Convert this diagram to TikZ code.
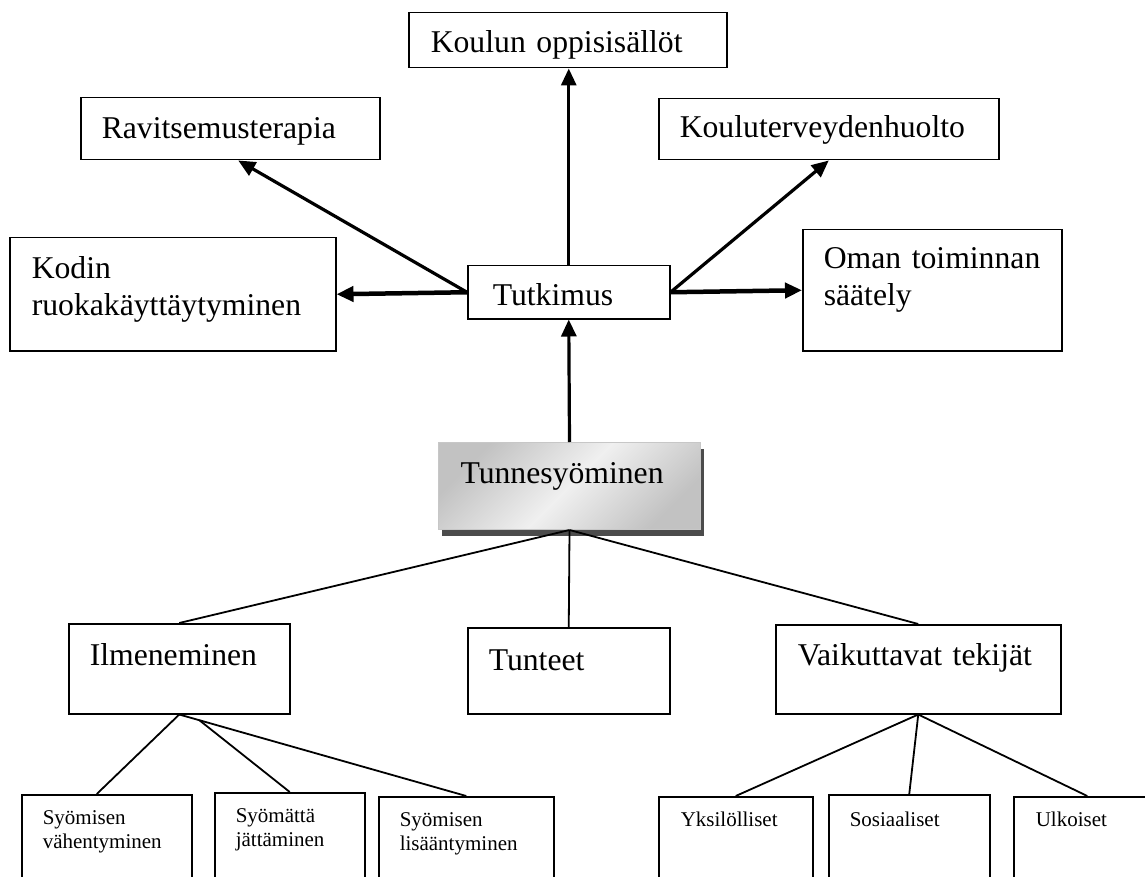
\documentclass[tikz,border=0pt]{standalone}
\usepackage{fontspec}
\setmainfont{Liberation Serif}
\usetikzlibrary{arrows.meta, positioning, calc, shadows}
\tikzset{
  box/.style = {
    draw, line width=1.5pt, anchor=north west, align=left, inner ysep=0pt,
    inner xsep=21pt, font=\fontsize{31.7}{37}\selectfont
  },
  smallbox/.style = {
    box, font=\fontsize{21}{24}\selectfont
  },
  shadedbox/.style = {
    box, draw=black!22, line width=1pt,
    top color=black!24, bottom color=black!24, middle color=black!6, shading angle=45,
    drop shadow={shadow xshift=3pt, shadow yshift=-6pt, fill=black!70, opacity=1}
  },
  arrow/.style = {-{Triangle[length=17pt, width=15pt]}, line width=3.2pt},
  heavy/.style = {arrow, line width=4.5pt},
  link/.style = {line width=1.8pt},
}

\begin{document}
\begin{tikzpicture}[x=1pt, y=1pt]
    \useasboundingbox (0,0) rectangle (1145,-877);
    \clip (0,0) rectangle (1145,-877);

    % Top: research and its targets
    \node[box, text width=274pt, inner xsep=22pt, text height=40pt, text depth=15pt] (koulu) at (408,-12) {Koulun oppisisällöt};
    \node[box, text width=257pt, text height=41pt, text depth=21pt] (ravitsemus) at (80,-97) {Ravitsemusterapia};
    \node[box, text width=298pt, text height=39pt, text depth=22pt] (terveys) at (658,-98) {Kouluterveydenhuolto};
    \node[box, text width=282pt, inner xsep=22pt, text height=41pt, text depth=72pt] (kodin) at (9,-237) {Kodin\\ruokakäyttäytyminen};
    \node[box, text width=217pt, text height=39pt, text depth=82pt] (oman) at (802,-229) {Oman toiminnan\\säätely};
    \node[box, text width=152pt, inner xsep=25pt, text height=40pt, text depth=13pt] (tutkimus) at (467,-265) {Tutkimus};

    % Middle: main topic
    \node[shadedbox, text width=218pt, inner xsep=22pt, text height=41pt, text depth=46pt] (tunne) at (438,-442) {Tunnesyöminen};

    % Row 2: three branches
    \node[box, text width=179pt, text height=42pt, text depth=48pt] (ilm) at (68,-623) {Ilmeneminen};
    \node[box, text width=160pt, text height=43pt, text depth=43pt] (tunteet) at (467,-627) {Tunteet};
    \node[box, text width=241pt, inner xsep=22pt, text height=41pt, text depth=48pt] (vaik) at (775,-624) {Vaikuttavat tekijät};

    % Row 3: small boxes (cut at the bottom edge)
    \node[smallbox, text width=128pt, text height=30pt, text depth=76pt] (vah) at (21,-794) {Syömisen\\vähentyminen};
    \node[smallbox, text width=108pt, text height=30pt, text depth=78pt] (jat) at (214,-792) {Syömättä\\jättäminen};
    \node[smallbox, text width=133pt, text height=30pt, text depth=74pt] (lis) at (378,-796) {Syömisen\\lisääntyminen};
    \node[smallbox, text width=110pt, inner xsep=22pt, text height=30pt, text depth=74pt] (yks) at (658,-796) {Yksilölliset};
    \node[smallbox, text width=119pt, text height=32pt, text depth=74pt] (sos) at (828,-794) {Sosiaaliset};
    \node[smallbox, text width=103pt, inner xsep=22pt, text height=30pt, text depth=74pt] (ulk) at (1013,-796) {Ulkoiset};

    % Arrows
    \draw[arrow] (tunne.north) -- (tutkimus.south);
    \draw[arrow] (tutkimus.north) -- (tutkimus.north |- koulu.south);
    \draw[arrow] (tutkimus.west) -- ([xshift=8pt]ravitsemus.south);
    \draw[arrow] (tutkimus.east) -- (terveys.south);
    \draw[heavy] (tutkimus.west) -- (kodin.east);
    \draw[heavy] (tutkimus.east) -- (oman.west);

    % Tree lines
    \draw[link] (tunne.south) -- (ilm.north);
    \draw[link] (tunne.south) -- (tunteet.north);
    \draw[link] (tunne.south) -- (vaik.north);

    \coordinate (split) at ($(ilm.south)!0.07!(lis.north)$);
    \draw[link] (ilm.south) -- ([xshift=-10pt]vah.north);
    \draw[link] (ilm.south) -- (lis.north);
    \draw[link] (split) -- (jat.north);

    \draw[link] (vaik.south) -- (yks.north);
    \draw[link] (vaik.south) -- (sos.north);
    \draw[link] (vaik.south) -- (ulk.north);
  \end{tikzpicture}
\end{document}
